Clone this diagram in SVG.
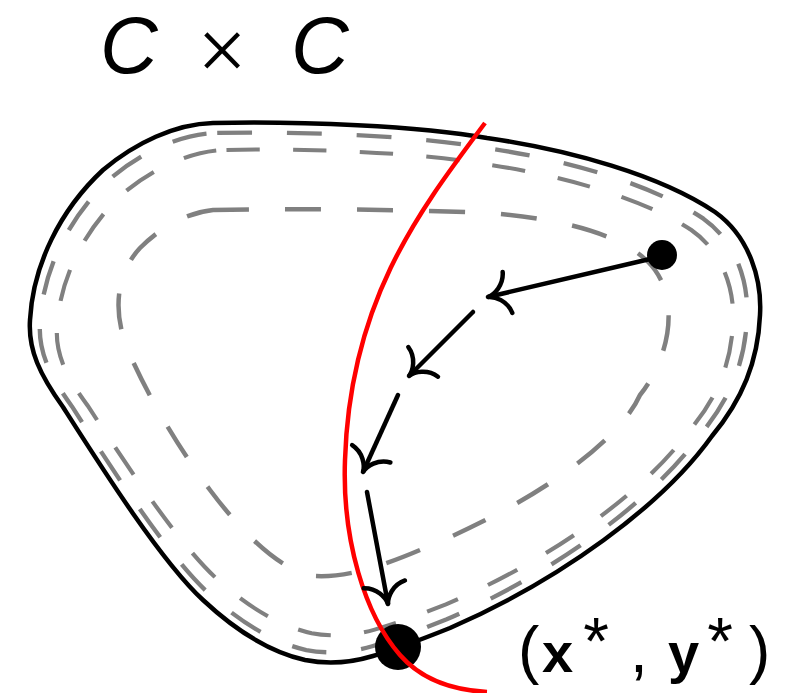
<svg xmlns="http://www.w3.org/2000/svg" width="795" height="693" viewBox="0 0 795 693">
  <style>
    .outline { fill: none; stroke: #000; stroke-width: 4.5; stroke-linejoin: round; }
    .dash { fill: none; stroke: #808080; stroke-width: 4.5; stroke-dasharray: 36 36; }
    .red { fill: none; stroke: #ff0000; stroke-width: 4.5; }
    .arrow { fill: none; stroke: #000; stroke-width: 4.5; stroke-linecap: round; marker-end: url(#to); }
    .title { font-family: "Liberation Sans", Arial, sans-serif; fill: #000; }
    .lbl { font-family: "Liberation Sans", Arial, sans-serif; fill: #000; }
  </style>
  <defs>
    <marker id="to" markerUnits="userSpaceOnUse" orient="auto" viewBox="-26 -26 32 52" refX="0" refY="0" markerWidth="32" markerHeight="52" overflow="visible">
      <path d="M -20,-21 C -18,-8 -7,-1 0,0 C -7,1 -18,8 -20,21" fill="none" stroke="#000" stroke-width="4.5" stroke-linecap="round"/>
    </marker>
    <path id="shape" d="M 213,123 C 300,121 420,126 487,138 C 570,150 660,175 715,212 C 750,237 762,280 760,315 C 758,362 742,400 712,436 C 662,506 560,580 450,628 C 420,640 400,648 373,656 C 350,663 325,664 305,660 C 270,652 235,630 203,600 C 160,560 100,465 63,407 C 40,375 28,350 30,320 C 33,265 60,210 103,170 C 135,143 175,124 213,123 Z"/>
  </defs>

  <g id="title">
    <text class="title" x="100" y="73" font-size="80" font-style="italic">C</text>
    <text class="title" x="222" y="80" font-size="88" text-anchor="middle" style="font-family: 'Liberation Serif', serif">×</text>
    <text class="title" x="291" y="73" font-size="80" font-style="italic">C</text>
  </g>

  <g id="level-sets">
    <use href="#shape" class="dash" transform="translate(347,392) scale(0.9685,0.963) translate(-347,-392)"/>
    <use href="#shape" class="dash" transform="translate(395,392) scale(0.926,0.9) translate(-395,-392)"/>
    <path class="dash" d="M 213,210 C 300,208 420,210 487,213 C 560,218 630,235 655,270 C 680,305 668,360 640,395 C 620,440 540,500 427,547 C 390,563 350,578 315,576 C 280,572 240,530 210,490 C 180,450 150,400 130,355 C 112,315 115,275 140,248 C 160,228 185,213 213,210 Z"/>
  </g>

  <g id="region">
    <use href="#shape" class="outline"/>
  </g>

  <g id="start-point">
    <circle cx="662" cy="255" r="15" fill="#000"/>
  </g>
  <g id="optimum">
    <circle cx="398" cy="647" r="23" fill="#000"/>
  </g>

  <g id="constraint-curve">
    <path class="red" d="M 485,123 C 420,210 350,300 345,460 C 342,540 365,615 400,655 C 420,678 450,690 487,692"/>
  </g>

  <g id="connectors">
    <line class="arrow" x1="650" y1="259" x2="488" y2="297"/>
    <line class="arrow" x1="473" y1="312" x2="409" y2="376"/>
    <line class="arrow" x1="398" y1="395" x2="363" y2="472"/>
    <line class="arrow" x1="367" y1="492" x2="388" y2="604"/>
  </g>

  <g id="label">
    <text class="lbl" x="518" y="672" font-size="64">(</text>
    <text class="lbl" x="542" y="672" font-size="56" font-weight="bold">x</text>
    <text class="lbl" x="596" y="664" font-size="66" text-anchor="middle">*</text>
    <text class="lbl" x="630" y="672" font-size="64">,</text>
    <text class="lbl" x="668" y="672" font-size="56" font-weight="bold">y</text>
    <text class="lbl" x="720" y="664" font-size="66" text-anchor="middle">*</text>
    <text class="lbl" x="749" y="672" font-size="64">)</text>
  </g>
</svg>
